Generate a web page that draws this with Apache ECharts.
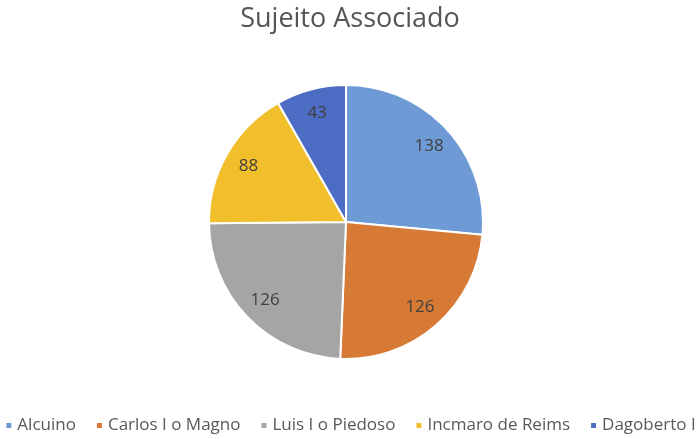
<!DOCTYPE html>
<html>
<head>
<meta charset="utf-8">
<script src="https://cdn.jsdelivr.net/npm/echarts@6/dist/echarts.min.js"></script>
<style>
  html, body { margin: 0; padding: 0; background: #fff; }
  #chart { width: 700px; height: 439px; }
</style>
</head>
<body>
<div id="chart"></div>
<script>
// dados do gráfico
const names = ['Alcuino', 'Carlos I o Magno', 'Luis I o Piedoso', 'Incmaro de Reims', 'Dagoberto I'];
const values = [138, 126, 126, 88, 43];
const colors = ['#6E9BD6', '#D67A36', '#A5A5A5', '#F1BE2C', '#4D6CC4'];

const pieData = names.map((n, i) => ({ name: n, value: values[i] }));
const font = '"Open Sans", sans-serif';

const chart = echarts.init(document.getElementById('chart'));
const option = {
  color: colors,
  animation: false,
  title: {
    text: 'Sujeito Associado',
    left: 'center',
    top: 1,
    textStyle: { color: '#555555', fontSize: 27, fontWeight: 'normal', fontFamily: font }
  },
  legend: {
    bottom: 5,
    left: 'center',
    width: 700,
    padding: 0,
    itemWidth: 7,
    itemHeight: 7,
    itemGap: 19,
    icon: 'rect',
    textStyle: { color: '#595959', fontSize: 17, fontFamily: font },
    data: names
  },
  series: [
    {
      type: 'pie',
      center: [346, 222],
      radius: [0, 137],
      startAngle: 90,
      clockwise: true,
      data: pieData,
      itemStyle: { borderColor: '#fff', borderWidth: 2 },
      label: { show: false },
      labelLine: { show: false }
    },
    {
      // anel transparente só para posicionar os rótulos
      type: 'pie',
      center: [346, 222],
      radius: [82, 137],
      startAngle: 90,
      clockwise: true,
      silent: true,
      legendHoverLink: false,
      data: pieData,
      itemStyle: { color: 'rgba(0,0,0,0)', borderWidth: 0 },
      label: {
        show: true,
        position: 'inner',
        formatter: '{c}',
        color: '#404040',
        fontSize: 17,
        fontFamily: font
      },
      labelLine: { show: false }
    }
  ]
};
chart.setOption(option);
</script>
</body>
</html>
